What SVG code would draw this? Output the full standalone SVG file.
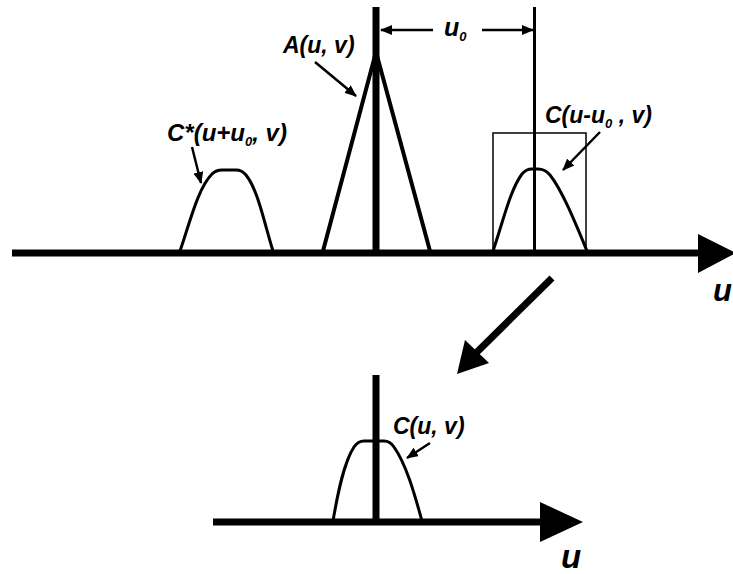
<svg xmlns="http://www.w3.org/2000/svg" width="733" height="574" viewBox="0 0 733 574">
<style>
.lbl{font-family:"Liberation Sans",Arial,sans-serif;font-weight:bold;font-style:italic;fill:#000}
.thin{stroke:#000;fill:none}
</style>
<defs>
<marker id="ah" markerWidth="12" markerHeight="10" refX="11" refY="5" orient="auto" markerUnits="userSpaceOnUse">
<path d="M0,0 L12,5 L0,10 Z" fill="#000"/>
</marker>
</defs>
<rect width="733" height="574" fill="#fff"/>
<g id="axis-top">
<line x1="12" y1="253" x2="702" y2="253" stroke="#000" stroke-width="7"/>
<path d="M698,234 L736,253 L698,273 Z" fill="#000"/>
<text class="lbl" x="713" y="301" font-size="31">u</text>
</g>
<g id="center-line">
<line x1="376" y1="7" x2="376" y2="253" stroke="#000" stroke-width="7"/>
</g>
<g id="right-line">
<line x1="534.5" y1="7" x2="534.5" y2="253" stroke="#000" stroke-width="3"/>
</g>
<g id="A-peak">
<path class="thin" d="M323,251 L376,52 L430,251" stroke-width="4" stroke-linejoin="miter"/>
<text class="lbl" x="283" y="53" font-size="23">A(u, v)</text>
</g>
<g id="C-star">
<path class="thin" stroke-width="3" d="M180,251 C190,222 198,188 212,174 Q216,170 222,170 L236,170 Q242,170 246,175 C258,190 264,222 273,251"/>
<text class="lbl" x="167" y="141" font-size="24">C*(u+u<tspan font-size="13" dy="5">0</tspan><tspan dy="-5">, v)</tspan></text>
</g>
<g id="C-shift">
<rect x="493" y="133" width="93" height="119" class="thin" stroke-width="1.5"/>
<path class="thin" stroke-width="3" d="M493,251 C503,222 510,190 522,174 Q526,169 532,169 L538,169 Q545,169 550,175 C562,190 575,222 587,251"/>
<text class="lbl" x="545" y="123" font-size="23">C(u-u<tspan font-size="13" dy="5">0</tspan><tspan dy="-5"> , v)</tspan></text>
</g>
<g id="u0-label">
<text class="lbl" x="444" y="36" font-size="25">u<tspan font-size="13" dy="5">0</tspan></text>
</g>
<g id="bottom">
<line x1="376" y1="375" x2="376" y2="522" stroke="#000" stroke-width="7"/>
<line x1="213" y1="522" x2="545" y2="522" stroke="#000" stroke-width="7"/>
<path d="M540,502 L583,522 L540,542 Z" fill="#000"/>
<path class="thin" stroke-width="3" d="M333,521 C338,492 344,462 354,447 Q358,441 364,441 L384,441 Q390,441 394,447 C406,464 414,492 422,521"/>
<text class="lbl" x="393" y="434" font-size="23">C(u, v)</text>
<text class="lbl" x="561" y="568" font-size="33">u</text>
</g>
<g id="connectors">
<line x1="433" y1="30" x2="381" y2="30" stroke="#000" stroke-width="2.5" marker-end="url(#ah)"/>
<line x1="482" y1="30" x2="533" y2="30" stroke="#000" stroke-width="2.5" marker-end="url(#ah)"/>
<line x1="315" y1="62" x2="356" y2="96" stroke="#000" stroke-width="2.5" marker-end="url(#ah)"/>
<line x1="192" y1="147" x2="201" y2="183" stroke="#000" stroke-width="2.5" marker-end="url(#ah)"/>
<line x1="600" y1="132" x2="563" y2="170" stroke="#000" stroke-width="2.5" marker-end="url(#ah)"/>
<line x1="430" y1="443" x2="407" y2="458" stroke="#000" stroke-width="2.5" marker-end="url(#ah)"/>
<line x1="552" y1="278" x2="474" y2="355" stroke="#000" stroke-width="7"/>
<path d="M457,374 L465,340 L489,363 Z" fill="#000"/>
</g>
</svg>
